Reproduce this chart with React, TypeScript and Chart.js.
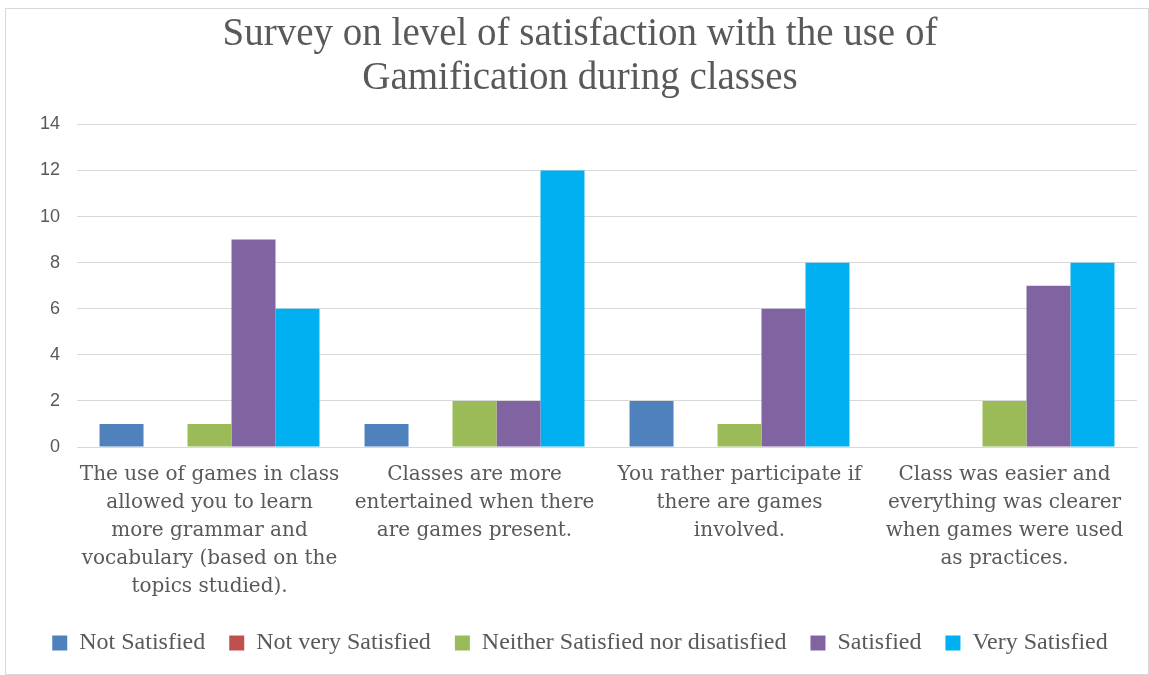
import React, { useEffect, useRef } from "react";
import { Chart, registerables } from "chart.js";

Chart.register(...registerables);

const categories: string[][] = [
  ["The use of games in class", "allowed you to learn", "more grammar and", "vocabulary (based on the", "topics studied)."],
  ["Classes are more", "entertained when there", "are games present."],
  ["You rather participate if", "there are games", "involved."],
  ["Class was easier and", "everything was clearer", "when games were used", "as practices."],
];

const notSatisfied = [1, 1, 2, 0];
const notVerySatisfied = [0, 0, 0, 0];
const neither = [1, 2, 1, 2];
const satisfied = [9, 2, 6, 7];
const verySatisfied = [6, 12, 8, 8];

const yTicks = [0, 2, 4, 6, 8, 10, 12, 14];

const titleLines = ["Survey on level of satisfaction with the use of", "Gamification during classes"];

export default function App() {
  const ref = useRef<HTMLCanvasElement | null>(null);
  useEffect(() => {
    document.body.style.margin = "0";
    if (!ref.current) return;
    const chart = new Chart(ref.current, {
      type: "bar",
      data: {
        labels: categories,
        datasets: [
          { label: "Not Satisfied", data: notSatisfied, backgroundColor: "#4F81BD" },
          { label: "Not very Satisfied", data: notVerySatisfied, backgroundColor: "#C0504D" },
          { label: "Neither Satisfied nor disatisfied", data: neither, backgroundColor: "#9BBB59" },
          { label: "Satisfied", data: satisfied, backgroundColor: "#8064A2" },
          { label: "Very Satisfied", data: verySatisfied, backgroundColor: "#00B0F0" },
        ],
      },
      options: {
        animation: false,
        responsive: false,
        maintainAspectRatio: false,
        layout: { padding: { left: 17, right: 11, top: 0, bottom: 24 } },
        datasets: { bar: { categoryPercentage: 0.83, barPercentage: 1 } },
        plugins: {
          title: {
            display: true,
            text: titleLines,
            color: "#595959",
            font: { family: "'Liberation Serif', serif", size: 39, weight: "normal", lineHeight: 1.12 },
            padding: { top: 4, bottom: 24 },
          },
          legend: {
            position: "bottom",
            labels: {
              color: "#595959",
              font: { family: "'Liberation Serif', serif", size: 24 },
              boxWidth: 15,
              boxHeight: 15,
              padding: 24,
            },
          },
          tooltip: { enabled: false },
        },
        scales: {
          x: {
            grid: { display: false, drawTicks: false },
            border: { display: true, color: "#d9d9d9", width: 1 },
            ticks: {
              color: "#595959",
              font: { family: "'DejaVu Serif', serif", size: 20, lineHeight: 1.4 },
              maxRotation: 0,
              autoSkip: false,
              padding: 14,
            },
            afterFit: (axis: any) => {
              axis.height -= 8;
            },
          },
          y: {
            min: 0,
            max: 14,
            afterBuildTicks: (axis: any) => {
              axis.ticks = yTicks.map((v) => ({ value: v }));
            },
            grid: { color: "#d9d9d9", drawTicks: false },
            border: { display: false },
            ticks: {
              color: "#595959",
              font: { family: "'Liberation Sans', sans-serif", size: 18 },
              padding: 17,
            },
          },
        },
      },
    });
    return () => chart.destroy();
  }, []);
  return (
    <div
      style={{
        position: "absolute",
        left: 5,
        top: 8,
        width: 1142,
        height: 665,
        border: "1px solid #d9d9d9",
        background: "#fff",
      }}
    >
      <canvas ref={ref} width={1142} height={680} style={{ display: "block", position: "absolute", left: 0, top: 0 }} />
    </div>
  );
}
